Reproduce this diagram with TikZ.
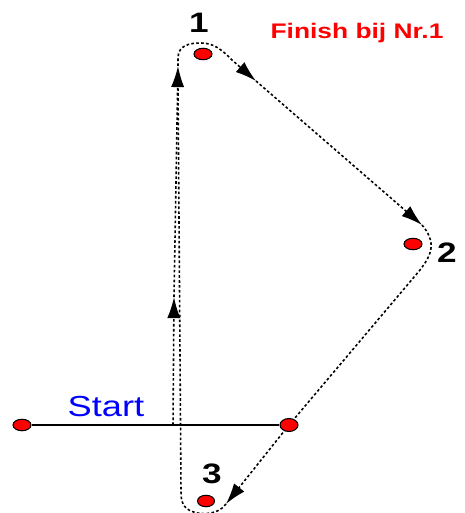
\documentclass[tikz,border=0pt]{standalone}
\usepackage{fontspec}
\usepackage{graphicx}
\setmainfont{Liberation Sans}
\usetikzlibrary{arrows.meta,positioning,backgrounds,shapes.geometric}
\definecolor{spotred}{RGB}{255,0,0}
\definecolor{startblue}{RGB}{0,0,255}
\newcommand{\widetext}[1]{\scalebox{1.25}[1]{#1}}

\begin{document}
\begin{tikzpicture}[x=0.02cm,y=-0.02cm,>={Latex[length=12pt,width=7.5pt]},
  spot/.style={draw,line width=0.6pt,ellipse,fill=spotred,inner sep=0pt,minimum width=0.36cm,minimum height=0.23cm},
  numlabel/.style={anchor=base,inner sep=0pt,font=\fontsize{16}{18}\selectfont\bfseries},
  route/.style={line width=0.9pt,dash pattern=on 1.5pt off 1.3pt}]
\useasboundingbox (0,0) rectangle (464,513);

% checkpoints
\node[spot] (start) at (22,425) {};
\node[spot,minimum height=0.26cm] (turn) at (289,425) {};
\node[spot] (p1) at (203,54) {};
\node[spot] (p2) at (413,244) {};
\node[spot,minimum width=0.34cm] (p3) at (206,501) {};

% texts
\node[numlabel] (l1) at (199,33) {\widetext{1}};
\node[numlabel] (l2) at (447,262) {\widetext{2}};
\node[numlabel] (l3) at (212,483) {\widetext{3}};
\node[anchor=base,inner sep=0pt,text=spotred,font=\fontsize{12}{14}\selectfont\bfseries] (finish) at (357,39) {\widetext{Finish bij Nr.1}};
\node[anchor=base,inner sep=0pt,text=startblue,font=\fontsize{16.5}{18}\selectfont] (starttext) at (106,416) {\widetext{Start}};

% route points
\coordinate (a0) at (173,425);
\coordinate (a1) at (174,297);
\coordinate (a2) at (178,66);
\coordinate (a3) at (256,81);
\coordinate (a4) at (422,225);
\coordinate (a5) at (226,504);
\coordinate (a6) at (178,84);

\begin{scope}[on background layer]
\draw[line width=1pt] (start) -- (turn);
\draw[route,->] (a0) -- (a1);
\draw[route,->] (a1) -- (a2);
\draw[route,->] (a2) -- (178,58) .. controls (178,45) and (190,43) .. (201,43)
  .. controls (214,43) and (222,50) .. (232,60) -- (a3);
\draw[route,->] (a3) -- (a4);
\draw[route] (a4) .. controls (428,232) and (432,240) .. (431,248)
  .. controls (430,256) and (426,262) .. (420,270) -- (turn.center);
\draw[route,->] (turn.center) -- (a5);
\draw[route] (a5) .. controls (218,516) and (195,516) .. (186,508)
  .. controls (182,504) and (181,500) .. (181,490) -- (a6);
\end{scope}
\end{tikzpicture}
\end{document}
